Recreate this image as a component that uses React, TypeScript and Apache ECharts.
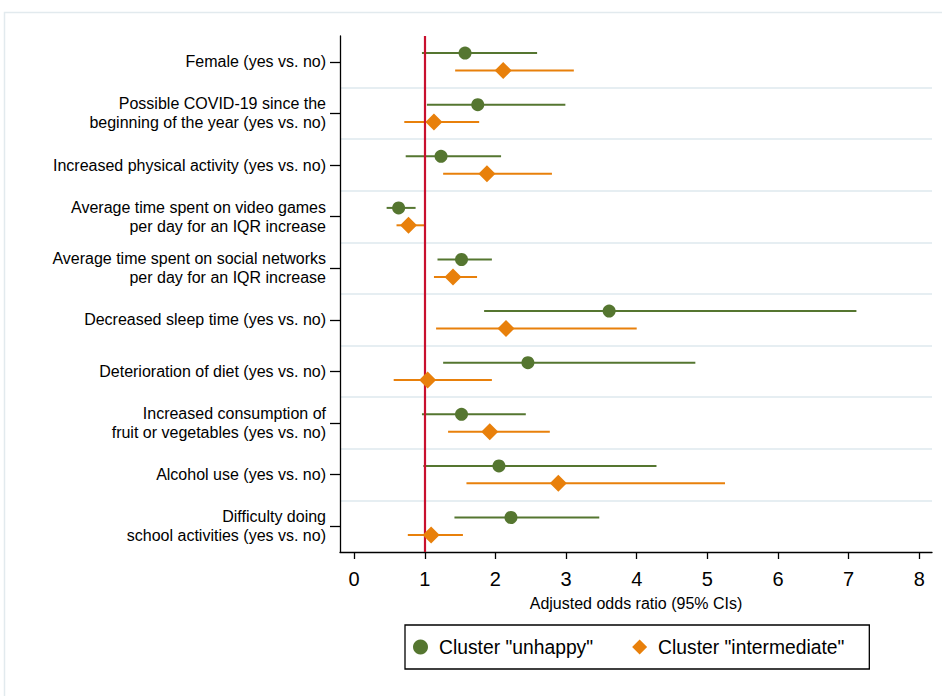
import React, { useEffect, useRef } from "react";
import * as echarts from "echarts";

const categories = [
  "Female (yes vs. no)",
  "Possible COVID-19 since the\nbeginning of the year (yes vs. no)",
  "Increased physical activity (yes vs. no)",
  "Average time spent on video games\nper day for an IQR increase",
  "Average time spent on social networks\nper day for an IQR increase",
  "Decreased sleep time (yes vs. no)",
  "Deterioration of diet (yes vs. no)",
  "Increased consumption of\nfruit or vegetables (yes vs. no)",
  "Alcohol use (yes vs. no)",
  "Difficulty doing\nschool activities (yes vs. no)",
];

const unhappyOR = [1.57, 1.75, 1.23, 0.63, 1.52, 3.61, 2.46, 1.52, 2.05, 2.22];
const unhappyLo = [0.96, 1.03, 0.73, 0.46, 1.18, 1.84, 1.26, 0.96, 0.98, 1.42];
const unhappyHi = [2.59, 2.99, 2.08, 0.87, 1.95, 7.11, 4.83, 2.43, 4.28, 3.47];

const interOR = [2.11, 1.13, 1.88, 0.77, 1.4, 2.15, 1.04, 1.92, 2.89, 1.09];
const interLo = [1.43, 0.71, 1.26, 0.6, 1.13, 1.16, 0.56, 1.33, 1.59, 0.76];
const interHi = [3.11, 1.77, 2.8, 0.99, 1.74, 4.0, 1.95, 2.77, 5.25, 1.54];

const xTicks = [0, 1, 2, 3, 4, 5, 6, 7, 8];
const referenceOR = 1;

const seriesNames = ['Cluster "unhappy"', 'Cluster "intermediate"'];

const GREEN = "#557630";
const ORANGE = "#e8800b";
const RED = "#c8102e";
const OFF = 8.7;
const FONT = "'Liberation Sans', Arial, sans-serif";

function ciSeries(lo: number[], hi: number[], color: string, off: number, withRef: boolean) {
  const s: any = {
    type: "custom",
    z: 2,
    silent: true,
    xAxisIndex: 0,
    yAxisIndex: 1,
    dimensions: ["lo", "hi", "row"],
    data: lo.map((l, i) => [l, hi[i], i]),
    encode: { x: [0, 1], y: 2 },
    renderItem: (_p: any, api: any) => {
      const a = api.coord([api.value(0), api.value(2)]);
      const b = api.coord([api.value(1), api.value(2)]);
      return {
        type: "line",
        shape: { x1: a[0], y1: a[1] + off, x2: b[0], y2: b[1] + off },
        style: { stroke: color, lineWidth: 2 },
      };
    },
  };
  if (withRef) {
    s.markLine = {
      silent: true,
      symbol: "none",
      z: 5,
      label: { show: false },
      lineStyle: { color: RED, width: 2.2, type: "solid" },
      data: [{ xAxis: referenceOR }],
    };
  }
  return s;
}

export default function App() {
  const ref = useRef<HTMLDivElement>(null);
  useEffect(() => {
    if (!ref.current) return;
    const chart = echarts.init(ref.current, null, { renderer: "svg" });
    chart.setOption({
      animation: false,
      backgroundColor: "#ffffff",
      textStyle: { fontFamily: FONT },
      graphic: [
        {
          type: "rect",
          shape: { x: 4.5, y: 12.5, width: 960, height: 700 },
          style: { fill: "none", stroke: "#e2eaee", lineWidth: 1.5 },
          silent: true,
          z: -10,
        },
      ],
      grid: { left: 340, right: 10, top: 36, bottom: 144 },
      xAxis: {
        type: "value",
        min: -0.2,
        max: 8.18,
        name: "Adjusted odds ratio (95% CIs)",
        nameLocation: "middle",
        nameGap: 43,
        nameTextStyle: { fontSize: 16, color: "#000", fontFamily: FONT },
        axisLine: { show: true, onZero: false, lineStyle: { color: "#000", width: 1.3 } },
        axisTick: { show: true, length: 7, customValues: xTicks, lineStyle: { color: "#000", width: 1.3 } },
        axisLabel: {
          customValues: xTicks,
          fontSize: 20,
          color: "#000",
          margin: 17,
          fontFamily: FONT,
          formatter: (v: number) => String(v),
        },
        splitLine: { show: false },
      },
      yAxis: [
        {
          type: "category",
          data: categories,
          inverse: true,
          position: "left",
          axisLine: { show: true, onZero: false, lineStyle: { color: "#000", width: 1.3 } },
          axisTick: { show: true, alignWithLabel: true, length: 10, lineStyle: { color: "#000", width: 1.3 } },
          axisLabel: {
            fontSize: 16,
            lineHeight: 19,
            color: "#000",
            margin: 14,
            fontFamily: FONT,
            align: "right",
          },
          splitLine: {
            show: true,
            showMinLine: false,
            showMaxLine: false,
            lineStyle: { color: "#e6eef2", width: 2 },
          },
        },
        {
          type: "value",
          min: -0.5,
          max: 9.5,
          inverse: true,
          show: false,
          position: "right",
        },
      ],
      legend: {
        left: 405,
        top: 625,
        orient: "horizontal",
        data: seriesNames,
        itemWidth: 15,
        itemHeight: 15,
        itemGap: 39,
        padding: [11, 25, 11, 8],
        borderColor: "#000",
        borderWidth: 1.3,
        borderRadius: 0,
        textStyle: {
          fontSize: 19.3,
          color: "#000",
          lineHeight: 22,
          fontFamily: FONT,
          padding: [0, 0, 0, 6],
        },
      },
      series: [
        ciSeries(unhappyLo, unhappyHi, GREEN, -OFF, true),
        ciSeries(interLo, interHi, ORANGE, OFF, false),
        {
          name: seriesNames[0],
          type: "scatter",
          z: 10,
          yAxisIndex: 1,
          symbol: "circle",
          symbolSize: 13,
          symbolOffset: [0, -OFF],
          itemStyle: { color: GREEN, opacity: 1 },
          data: unhappyOR.map((v, i) => [v, i]),
        },
        {
          name: seriesNames[1],
          type: "scatter",
          z: 10,
          yAxisIndex: 1,
          symbol: "diamond",
          symbolSize: 17,
          symbolOffset: [0, OFF],
          itemStyle: { color: ORANGE, opacity: 1 },
          data: interOR.map((v, i) => [v, i]),
        },
      ],
    });
    return () => chart.dispose();
  }, []);
  return (
    <div
      ref={ref}
      style={{ position: "absolute", left: 0, top: 0, width: 942, height: 696 }}
    />
  );
}
